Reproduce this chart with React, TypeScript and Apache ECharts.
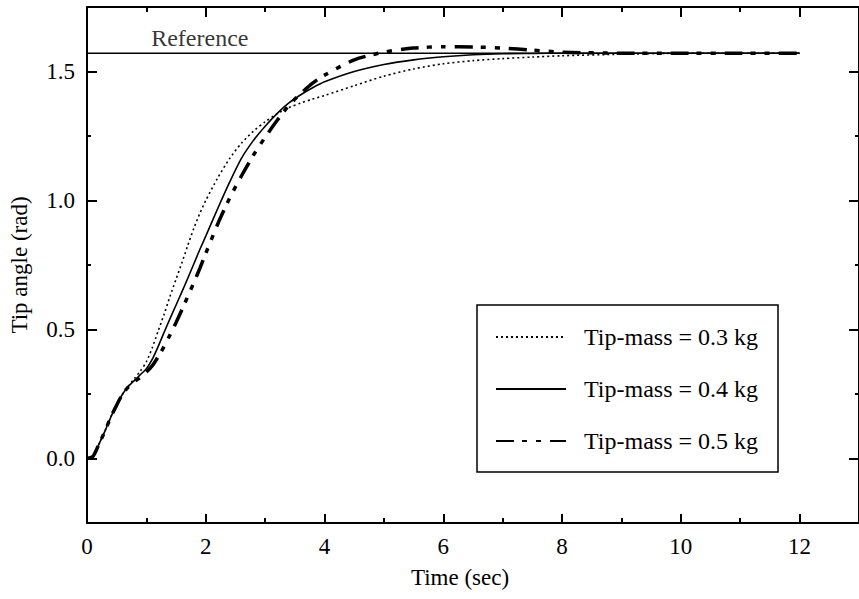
import React, { useEffect, useRef } from 'react';
import * as echarts from 'echarts';

// ---- data ----
const time = [
  0, 0.1, 0.2, 0.3, 0.4, 0.5, 0.6, 0.7, 0.8, 0.9, 1.0, 1.1, 1.2, 1.3, 1.4, 1.5, 1.6, 1.7, 1.8, 1.9, 2.0,
  2.2, 2.4, 2.6, 2.8, 3.0, 3.2, 3.4, 3.6, 3.8, 4.0, 4.5, 5.0, 5.5, 6.0, 6.5, 7.0, 7.5, 8.0, 9.0, 10.0, 11.0, 12.0,
];
const angle03 = [
  0, 0.008, 0.055, 0.105, 0.16, 0.207, 0.25, 0.282, 0.31, 0.34, 0.375, 0.43, 0.495, 0.56, 0.63, 0.695, 0.76, 0.828, 0.893, 0.95, 1.0,
  1.087, 1.162, 1.222, 1.268, 1.305, 1.336, 1.36, 1.378, 1.393, 1.407, 1.445, 1.482, 1.51, 1.53, 1.542, 1.55, 1.556, 1.561, 1.567, 1.5708, 1.5708, 1.5708,
];
const angle04 = [
  0, 0.008, 0.055, 0.105, 0.16, 0.207, 0.25, 0.28, 0.303, 0.325, 0.348, 0.385, 0.435, 0.49, 0.543, 0.595, 0.647, 0.7, 0.755, 0.81, 0.862,
  0.968, 1.07, 1.163, 1.232, 1.288, 1.337, 1.378, 1.41, 1.437, 1.46, 1.5, 1.527, 1.545, 1.557, 1.565, 1.569, 1.57, 1.5708, 1.5708, 1.5708, 1.5708, 1.5708,
];
const angle05 = [
  0, 0.008, 0.055, 0.105, 0.16, 0.207, 0.25, 0.278, 0.298, 0.315, 0.335, 0.36, 0.395, 0.435, 0.48, 0.527, 0.577, 0.63, 0.682, 0.737, 0.795,
  0.908, 1.008, 1.095, 1.175, 1.245, 1.31, 1.368, 1.415, 1.455, 1.486, 1.545, 1.575, 1.591, 1.596, 1.595, 1.591, 1.583, 1.575, 1.571, 1.5708, 1.5708, 1.5708,
];
const seriesNames = ['Tip-mass = 0.3 kg', 'Tip-mass = 0.4 kg', 'Tip-mass = 0.5 kg'];
const referenceAngle = 1.5708;
const referenceSpan = [0, 12];
const referenceLabelTime = 1.9;
const referenceText = 'Reference';
const yLabelValues = [0, 0.5, 1.0, 1.5];
const yMinorValues = [0.25, 0.75, 1.25];

const FONT = '"Liberation Serif", "Times New Roman", Times, serif';
const BLACK = '#000';

export default function App() {
  const ref = useRef<HTMLDivElement>(null);
  useEffect(() => {
    if (!ref.current) return;
    const chart = echarts.init(ref.current, undefined, { renderer: 'svg' });

    const xBase = {
      type: 'value' as const,
      min: 0,
      max: 13,
      splitLine: { show: false },
    };
    const yBase = {
      type: 'value' as const,
      min: -0.25,
      max: 1.75,
      interval: 0.25,
      splitLine: { show: false },
    };
    const lineStyle = { color: BLACK, width: 2 };

    const toPairs = (vals: number[]) => time.map((t, i) => [t, vals[i]]);

    chart.setOption({
      animation: false,
      backgroundColor: '#fff',
      grid: { left: 84, top: 7, width: 782, height: 516, show: false, containLabel: false },
      xAxis: [
        {
          ...xBase,
          position: 'bottom',
          interval: 2,
          axisLine: { show: true, onZero: false, lineStyle },
          axisTick: { show: true, inside: true, length: 9, lineStyle },
          axisLabel: {
            show: true,
            color: BLACK,
            fontSize: 23,
            fontFamily: FONT,
            margin: 12,
            showMaxLabel: false,
            formatter: (v: number) => (v > 12 ? '' : String(v)),
          },
          name: 'Time (sec)',
          nameLocation: 'middle',
          nameGap: 43,
          nameTextStyle: { color: BLACK, fontSize: 23, fontFamily: FONT, padding: [0, 26, 0, 0] },
        },
        {
          ...xBase,
          position: 'top',
          interval: 2,
          axisLine: { show: true, onZero: false, lineStyle },
          axisTick: { show: true, inside: true, length: 10, lineStyle },
          axisLabel: { show: false },
        },
        {
          ...xBase,
          position: 'bottom',
          interval: 1,
          axisLine: { show: false, onZero: false },
          axisTick: { show: true, inside: true, length: 5, lineStyle },
          axisLabel: { show: false },
        },
        {
          ...xBase,
          position: 'top',
          interval: 1,
          axisLine: { show: false, onZero: false },
          axisTick: { show: true, inside: true, length: 5, lineStyle },
          axisLabel: { show: false },
        },
      ],
      yAxis: [
        {
          ...yBase,
          position: 'left',
          axisLine: { show: true, onZero: false, lineStyle },
          axisTick: { show: true, inside: true, length: 10, lineStyle, customValues: yLabelValues },
          axisLabel: {
            show: true,
            color: BLACK,
            fontSize: 23,
            fontFamily: FONT,
            margin: 12,
            customValues: yLabelValues,
            formatter: (v: number) => {
              const r = Math.round(v * 100) / 100;
              return Math.abs(r * 2 - Math.round(r * 2)) < 1e-6 && r >= 0 ? r.toFixed(1) : '';
            },
          },
          name: 'Tip angle (rad)',
          nameLocation: 'middle',
          nameRotate: 90,
          nameGap: 56,
          nameTextStyle: { color: BLACK, fontSize: 23, fontFamily: FONT },
        },
        {
          ...yBase,
          position: 'right',
          axisLine: { show: true, onZero: false, lineStyle },
          axisTick: { show: true, inside: true, length: 10, lineStyle, customValues: yLabelValues },
          axisLabel: { show: false },
        },
        {
          ...yBase,
          position: 'left',
          axisLine: { show: false, onZero: false },
          axisTick: { show: true, inside: true, length: 4, lineStyle, customValues: yMinorValues },
          axisLabel: { show: false },
        },
        {
          ...yBase,
          position: 'right',
          axisLine: { show: false, onZero: false },
          axisTick: { show: true, inside: true, length: 4, lineStyle, customValues: yMinorValues },
          axisLabel: { show: false },
        },
      ],
      legend: {
        data: seriesNames,
        orient: 'vertical',
        left: 477,
        top: 305,
        padding: [20, 20, 19, 18],
        itemGap: 28,
        itemWidth: 70,
        itemHeight: 14,
        borderColor: BLACK,
        borderWidth: 1.5,
        backgroundColor: '#fff',
        selectedMode: false,
        itemStyle: { opacity: 0, color: 'rgba(0,0,0,0)', borderWidth: 0 },
        textStyle: { color: BLACK, fontSize: 24, fontFamily: FONT, padding: [0, 0, 0, 13] },
      },
      series: [
        {
          name: 'reference',
          type: 'line',
          data: referenceSpan.map((t) => [t, referenceAngle]),
          symbol: 'none',
          silent: true,
          color: BLACK,
          lineStyle: { color: BLACK, width: 1.5 },
        },
        {
          name: 'referenceLabel',
          type: 'scatter',
          data: [[referenceLabelTime, referenceAngle]],
          symbolSize: 1,
          silent: true,
          itemStyle: { color: 'rgba(0,0,0,0)' },
          label: {
            show: true,
            formatter: referenceText,
            position: 'top',
            distance: 3,
            color: BLACK,
            fontSize: 24,
            fontFamily: FONT,
          },
        },
        {
          name: seriesNames[0],
          type: 'line',
          data: toPairs(angle03),
          symbol: 'none',
          smooth: 0.25,
          color: BLACK,
          lineStyle: { color: BLACK, width: 1.6, type: [2, 3] },
        },
        {
          name: seriesNames[1],
          type: 'line',
          data: toPairs(angle04),
          symbol: 'none',
          smooth: 0.25,
          color: BLACK,
          lineStyle: { color: BLACK, width: 1.6, type: 'solid' },
        },
        {
          name: seriesNames[2],
          type: 'line',
          data: toPairs(angle05),
          symbol: 'none',
          smooth: 0.25,
          color: BLACK,
          lineStyle: { color: BLACK, width: 3.5, type: [18, 8, 5, 9, 5, 9] },
        },
      ],
    });
    return () => chart.dispose();
  }, []);
  return (
    <div
      ref={ref}
      style={{ position: 'fixed', left: 0, top: 0, width: 859, height: 599, background: '#fff' }}
    />
  );
}
